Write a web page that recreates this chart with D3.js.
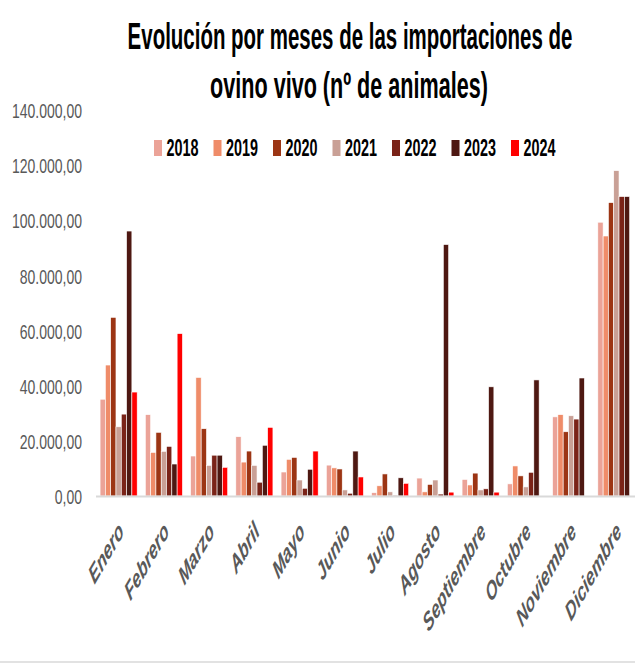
<!DOCTYPE html>
<html>
<head>
<meta charset="utf-8">
<script src="https://cdn.jsdelivr.net/npm/d3@7"></script>
<style>
  body { margin: 0; background: #fff; }
  svg { display: block; }
</style>
</head>
<body>
<div id="chart"></div>
<script>
const width = 635;
const height = 663;

// data
const months = ["Enero", "Febrero", "Marzo", "Abril", "Mayo", "Junio", "Julio",
    "Agosto", "Septiembre", "Octubre", "Noviembre", "Diciembre"];
const years = ["2018", "2019", "2020", "2021", "2022", "2023", "2024"];
const v2018 = [35100, 29500, 14500, 21500, 8700, 11200, 1200, 6500, 6000, 4400, 28700, 99300];
const v2019 = [47500, 15800, 43000, 12300, 13300, 10200, 3700, 1500, 4000, 10900, 29500, 94300];
const v2020 = [64800, 23100, 24400, 16300, 14000, 9800, 8000, 4200, 8300, 7300, 23300, 106400];
const v2021 = [25100, 16200, 11100, 11100, 5800, 2200, 1500, 5800, 2200, 3300, 29100, 118000];
const v2022 = [29700, 18000, 14800, 5000, 2800, 1000, 300, 700, 2600, 8600, 27900, 108600];
const v2023 = [96100, 11600, 14800, 18400, 9700, 16300, 6600, 91200, 39600, 42100, 42800, 108600];
const v2024 = [37700, 58900, 10400, 24900, 16300, 6900, 4600, 1400, 1400, 0, 0, 0];
const yTicks = [0, 20000, 40000, 60000, 80000, 100000, 120000, 140000];
const colors = ["#EBA398", "#EF8C69", "#9C3514", "#C9A096", "#7A2318", "#4E1812", "#FF0000"];

const series = [v2018, v2019, v2020, v2021, v2022, v2023, v2024];
const table = months.map((m, i) => ({
    month: m,
    values: years.map((y, j) => ({year: y, value: series[j][i]}))
}));

const svg = d3.select("#chart")
    .append("svg")
    .attr("width", width)
    .attr("height", height);

const x0 = d3.scaleBand()
    .domain(months)
    .range([96, 639])
    .paddingInner(0.18)
    .paddingOuter(0.09);

const x1 = d3.scaleBand()
    .domain(years)
    .range([0, x0.bandwidth()]);

const y = d3.scaleLinear()
    .domain([0, 140000])
    .range([496, 110]);

const color = d3.scaleOrdinal().domain(years).range(colors);

const es = d3.formatLocale({decimal: ",", thousands: ".", grouping: [3], currency: ["", "€"]});
const fmt = es.format(",.2f");

const font = "'Liberation Sans', Arial, sans-serif";

// squeeze a text horizontally so it spans the given width
function squeeze(sel, cx, cy, target) {
    sel.each(function () {
        let w = this.getComputedTextLength();
        d3.select(this).attr("transform",
            "translate(" + cx + "," + cy + ") scale(" + (target / w) + ",1)");
    });
}

// title
const title = svg.append("g").attr("font-family", font)
    .attr("font-weight", "bold").attr("fill", "#000").attr("text-anchor", "middle")
    .attr("font-size", 37);
title.append("text").text("Evolución por meses de las importaciones de")
    .call(squeeze, 350, 49, 445);
title.append("text").text("ovino vivo (nº de animales)")
    .call(squeeze, 349, 98, 278);

// legend
const legend = svg.append("g")
    .selectAll("g")
    .data(years)
    .enter()
    .append("g")
    .attr("transform", (d, i) => "translate(" + (154 + i * 59.5) + ",140)");
legend.append("rect")
    .attr("width", 8).attr("height", 16)
    .attr("fill", d => color(d));
legend.append("text")
    .attr("font-family", font)
    .attr("font-weight", "bold").attr("font-size", 23)
    .attr("fill", "#000")
    .text(d => d)
    .call(squeeze, 12.5, 16, 32);

// y axis labels
const yAxis = svg.append("g")
    .attr("transform", "translate(82,0)")
    .call(d3.axisLeft(y).tickValues(yTicks).tickFormat(fmt).tickSize(0).tickPadding(0));
yAxis.select(".domain").remove();
yAxis.selectAll("text")
    .attr("x", null).attr("dy", "0.36em")
    .attr("font-family", font)
    .attr("font-size", 21)
    .attr("fill", "#595959")
    .attr("transform", "scale(0.667,1)");

// bars
svg.append("g")
    .selectAll("g")
    .data(table)
    .enter()
    .append("g")
    .attr("transform", d => "translate(" + x0(d.month) + ",0)")
    .selectAll("rect")
    .data(d => d.values)
    .enter()
    .append("rect")
    .attr("x", d => x1(d.year))
    .attr("y", d => y(d.value))
    .attr("width", x1.bandwidth())
    .attr("height", d => y(0) - y(d.value))
    .attr("fill", d => color(d.year))
    .attr("stroke", "#fff")
    .attr("stroke-width", 0.6);

// x axis
svg.append("line")
    .attr("x1", 96).attr("x2", 635)
    .attr("y1", 496.5).attr("y2", 496.5)
    .attr("stroke", "#D9D9D9").attr("stroke-width", 2);

svg.append("g")
    .selectAll("text")
    .data(months)
    .enter()
    .append("text")
    .attr("transform", d => "translate(" + (x0(d) + x0.bandwidth() / 2 + 6) + ",533) scale(0.577,1) rotate(-45)")
    .attr("text-anchor", "end")
    .attr("font-family", font)
    .attr("font-weight", "bold").attr("font-style", "italic")
    .attr("font-size", 26)
    .attr("fill", "#595959")
    .text(d => d);

// chart border at the bottom
svg.append("line")
    .attr("x1", 0).attr("x2", width)
    .attr("y1", 662).attr("y2", 662)
    .attr("stroke", "#D9D9D9").attr("stroke-width", 1.5);
</script>
</body>
</html>
